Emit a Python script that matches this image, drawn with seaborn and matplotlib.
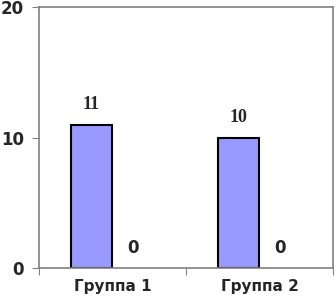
import pandas as pd
import matplotlib.pyplot as plt
import seaborn as sns

groups = ["Группа 1", "Группа 2"]
series = ["Ряд 1", "Ряд 2"]
values_1 = [11, 10]
values_2 = [0, 0]

df = pd.DataFrame({
    "group": groups * 2,
    "series": [series[0]] * 2 + [series[1]] * 2,
    "value": values_1 + values_2,
})

sns.set_style("white")
plt.rcParams['font.family'] = ['DejaVu Sans']

fig = plt.figure(figsize=(3.36, 3.05), dpi=100)
ax = fig.add_axes([0.116, 0.121, 0.875, 0.856])

sns.barplot(data=df, x="group", y="value", hue="series", ax=ax,
            palette=["#9999ff", "#9999ff"], saturation=1, width=0.571, gap=0,
            edgecolor="black", linewidth=1.5, legend=False)

# zero bars show no outline
for bar in ax.containers[1]:
    bar.set_linewidth(0)

# value labels: first series in serif, second in sans
ax.bar_label(ax.containers[0], padding=8, fontsize=13, fontweight="bold",
             family="Liberation Serif")
ax.bar_label(ax.containers[1], padding=8, fontsize=12, fontweight="bold")

ax.set_xlim(-0.5, 1.5)
ax.set_ylim(0, 20)
ax.set_yticks([0, 10, 20])
ax.set_xlabel("")
ax.set_ylabel("")

# ticks at category boundaries, labels centered
ax.set_xticks([-0.5, 0.5, 1.5])
ax.set_xticklabels([])
ax.set_xticks([0, 1], minor=True)
ax.set_xticklabels(groups, minor=True, fontsize=11, fontweight="bold")
ax.tick_params(axis="x", which="major", length=5, color="#808080", direction="out", bottom=True)
ax.tick_params(axis="x", which="minor", length=0, pad=8)
ax.tick_params(axis="y", length=5, color="#808080", direction="out", left=True,
               labelsize=12, pad=6)
for lab in ax.get_yticklabels():
    lab.set_fontweight("bold")

for s in ax.spines.values():
    s.set_color("#808080")
    s.set_linewidth(1.2)

fig.savefig("out.png", dpi=100)
